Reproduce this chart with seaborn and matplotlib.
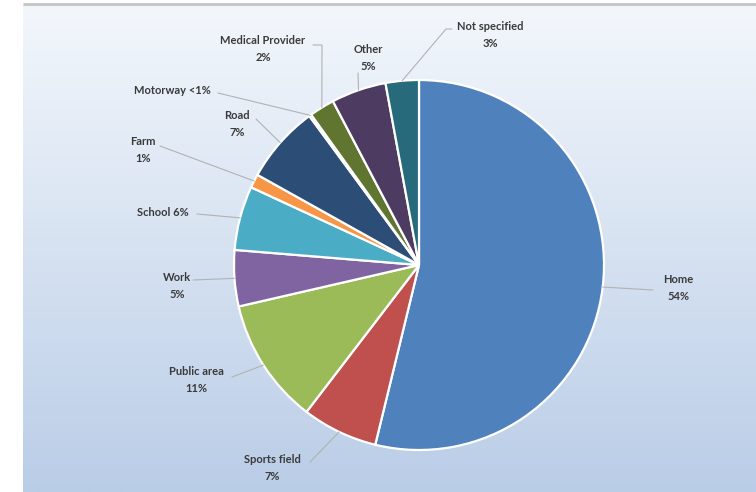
import numpy as np
import matplotlib
matplotlib.use("Agg")
import matplotlib.pyplot as plt
import seaborn as sns

# Injury location shares (percent of cases), clockwise from 12 o'clock
locations = ["Home", "Sports field", "Public area", "Work", "School", "Farm",
             "Road", "Motorway", "Medical Provider", "Other", "Not specified"]
shares = [53.8, 6.6, 11.0, 4.9, 5.6, 1.2, 6.8, 0.2, 2.2, 4.8, 2.9]
colors = ["#4F81BD", "#C0504D", "#9BBB59", "#8064A2", "#4BACC6", "#F79646",
          "#2C4D75", "#772C2A", "#5F7530", "#4D3B62", "#276A7C"]
# whether the percentage goes on the same line as the name
inline = [False, False, False, False, True, False, False, True, False, False, False]

# Label layout in pixel space (x, y of text centre) and leader line starts
label_xy = [(678, 288), (272, 468), (196, 380), (177, 286), (163, 213),
            (143, 150), (237, 124), (172, 91), (263, 49), (368, 58), (490, 35)]
line_start = [[(653, 290)], [(310, 462)], [(232, 377)], [(193, 280)],
              [(197, 214)], [(160, 146)], [(256, 119)], [(218, 93)],
              [(313, 45), (322, 45)], [(358, 73)], [(452, 29), (446, 29)]]

W, H = 756, 492
CX, CY, R = 419, 265, 185

sns.set_theme(style="white")
plt.rcParams["font.family"] = ["Lato", "DejaVu Sans"]

fig = plt.figure(figsize=(W / 100, H / 100), dpi=100, facecolor="white")

# Gradient chart panel
bg = fig.add_axes([23 / W, 0, 1 - 23 / W, (H - 5) / H])
grad = np.linspace(0, 1, 256)[:, None]
top = np.array([0xF3, 0xF7, 0xFC]) / 255
bot = np.array([0xBA, 0xCD, 0xE7]) / 255
img = top[None, None, :] * (1 - grad[:, :, None]) + bot[None, None, :] * grad[:, :, None]
bg.imshow(img, aspect="auto", extent=[0, 1, 0, 1])
bg.set_axis_off()

# Pie
pax = fig.add_axes([(CX - R) / W, (H - CY - R) / H, 2 * R / W, 2 * R / H])
wedges, _ = pax.pie(shares, colors=colors, startangle=90, counterclock=False,
                    radius=1.0,
                    wedgeprops=dict(edgecolor="white", linewidth=1.6))
pax.set_xlim(-1, 1)
pax.set_ylim(-1, 1)
pax.set_aspect("equal")
pax.set_axis_off()

# Overlay in pixel coordinates for labels and leader lines
ov = fig.add_axes([0, 0, 1, 1])
ov.set_xlim(0, W)
ov.set_ylim(H, 0)
ov.set_axis_off()
ov.patch.set_alpha(0)

# top rule of the chart panel
ov.plot([23, W], [4, 4], color="#C4C4C4", lw=2, solid_capstyle="butt")

text_color = "#3A3A3A"
for w, name, val, one_line, (tx, ty), start in zip(
        wedges, locations, shares, inline, label_xy, line_start):
    pct = "<1%" if val < 1 else f"{round(val):.0f}%"
    label = f"{name} {pct}" if one_line else f"{name}\n{pct}"
    ov.text(tx, ty, label, ha="center", va="center", fontsize=8,
            fontweight="bold", color=text_color, linespacing=1.65)
    mid = np.deg2rad((w.theta1 + w.theta2) / 2)
    ex, ey = CX + R * np.cos(mid), CY - R * np.sin(mid)
    pts = list(start) + [(ex, ey)]
    ov.plot([p[0] for p in pts], [p[1] for p in pts], color="#B2B2B2", lw=0.8)

fig.savefig("out.png", dpi=100, facecolor="white")
